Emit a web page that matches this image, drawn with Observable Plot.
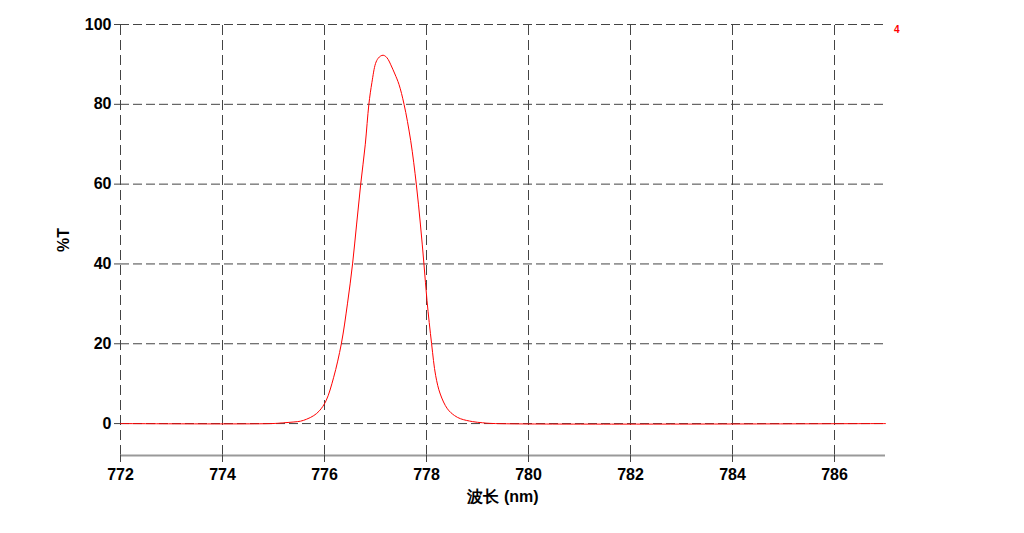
<!DOCTYPE html>
<html>
<head>
<meta charset="utf-8">
<script src="https://cdn.jsdelivr.net/npm/d3@7"></script>
<script src="https://cdn.jsdelivr.net/npm/@observablehq/plot@0.6"></script>
<style>
  html, body { margin: 0; padding: 0; background: #fff; }
  #chart svg { display: block; }
</style>
</head>
<body>
<div id="chart"></div>
<script>
// Wavelength (nm) and transmission (%T)
const wavelength = [
  772, 774.97, 775.2, 775.4, 775.53, 775.65, 775.79, 775.9, 776.03, 776.18,
  776.33, 776.45, 776.55, 776.63, 776.71, 776.8, 776.87, 776.93, 777.0, 777.05,
  777.1, 777.15, 777.2, 777.25, 777.3, 777.38, 777.46, 777.56, 777.69, 777.8,
  777.88, 777.95, 778.01, 778.1, 778.18, 778.27, 778.41, 778.55, 778.67, 778.9,
  779.1, 779.35, 787
];
const transmission = [
  0, 0, 0.2, 0.4, 0.6, 1.1, 2.0, 3.2, 5.7, 11.6,
  20, 30, 40, 50, 60, 70, 80, 85.5, 90.2, 91.5,
  92.1, 92.3, 92.0, 91.2, 89.9, 87.6, 85.0, 80, 70.9, 60,
  50, 40, 30.8, 20, 12, 7.4, 3.7, 2.0, 1.2, 0.5,
  0.2, 0, 0
];
const xTicks = [772, 774, 776, 778, 780, 782, 784, 786];
const yTicks = [0, 20, 40, 60, 80, 100];
const curveLabel = ["4"];
const xLabel = "波长 (nm)";
const yLabel = "%T";

const data = wavelength.map((w, i) => ({w, t: transmission[i]}));

const gridColor = "#444";
const chart = Plot.plot({
  width: 1024,
  height: 533,
  marginLeft: 120,
  marginRight: 139,
  marginTop: 24,
  marginBottom: 78,
  style: {fontFamily: "'Liberation Sans', Arial, sans-serif", fontSize: "16px", fontWeight: "bold", color: "#000", background: "#fff"},
  x: {domain: [772, 787]},
  y: {domain: [-8, 100]},
  marks: [
    Plot.ruleX(xTicks, {y1: -8, y2: 100, stroke: gridColor, strokeWidth: 1, strokeDasharray: "10,5"}),
    Plot.ruleY(yTicks, {x1: 772, x2: 787, stroke: gridColor, strokeWidth: 1, strokeDasharray: "9,4"}),
    Plot.ruleY([-8], {x1: 772, x2: 787, stroke: "#999", strokeWidth: 2}),
    Plot.axisX({ticks: xTicks, tickSize: 7, tickPadding: 6, tickFormat: d => String(d), stroke: "#444",
      label: xLabel, labelAnchor: "center", labelArrow: "none", labelOffset: 46}),
    Plot.axisY({ticks: yTicks, tickSize: 6, tickPadding: 3, tickFormat: d => String(d), stroke: "#444",
      label: yLabel, labelAnchor: "center", labelArrow: "none", labelOffset: 63}),
    Plot.line(data, {x: "w", y: "t", stroke: "#ff0000", strokeWidth: 1, curve: "catmull-rom"}),
    Plot.text(curveLabel, {text: d => d, frameAnchor: "top-right", dx: 14, dy: 1, fill: "#ff0000", fontSize: 10, fontWeight: "bold"})
  ]
});
document.getElementById("chart").appendChild(chart);
</script>
</body>
</html>
